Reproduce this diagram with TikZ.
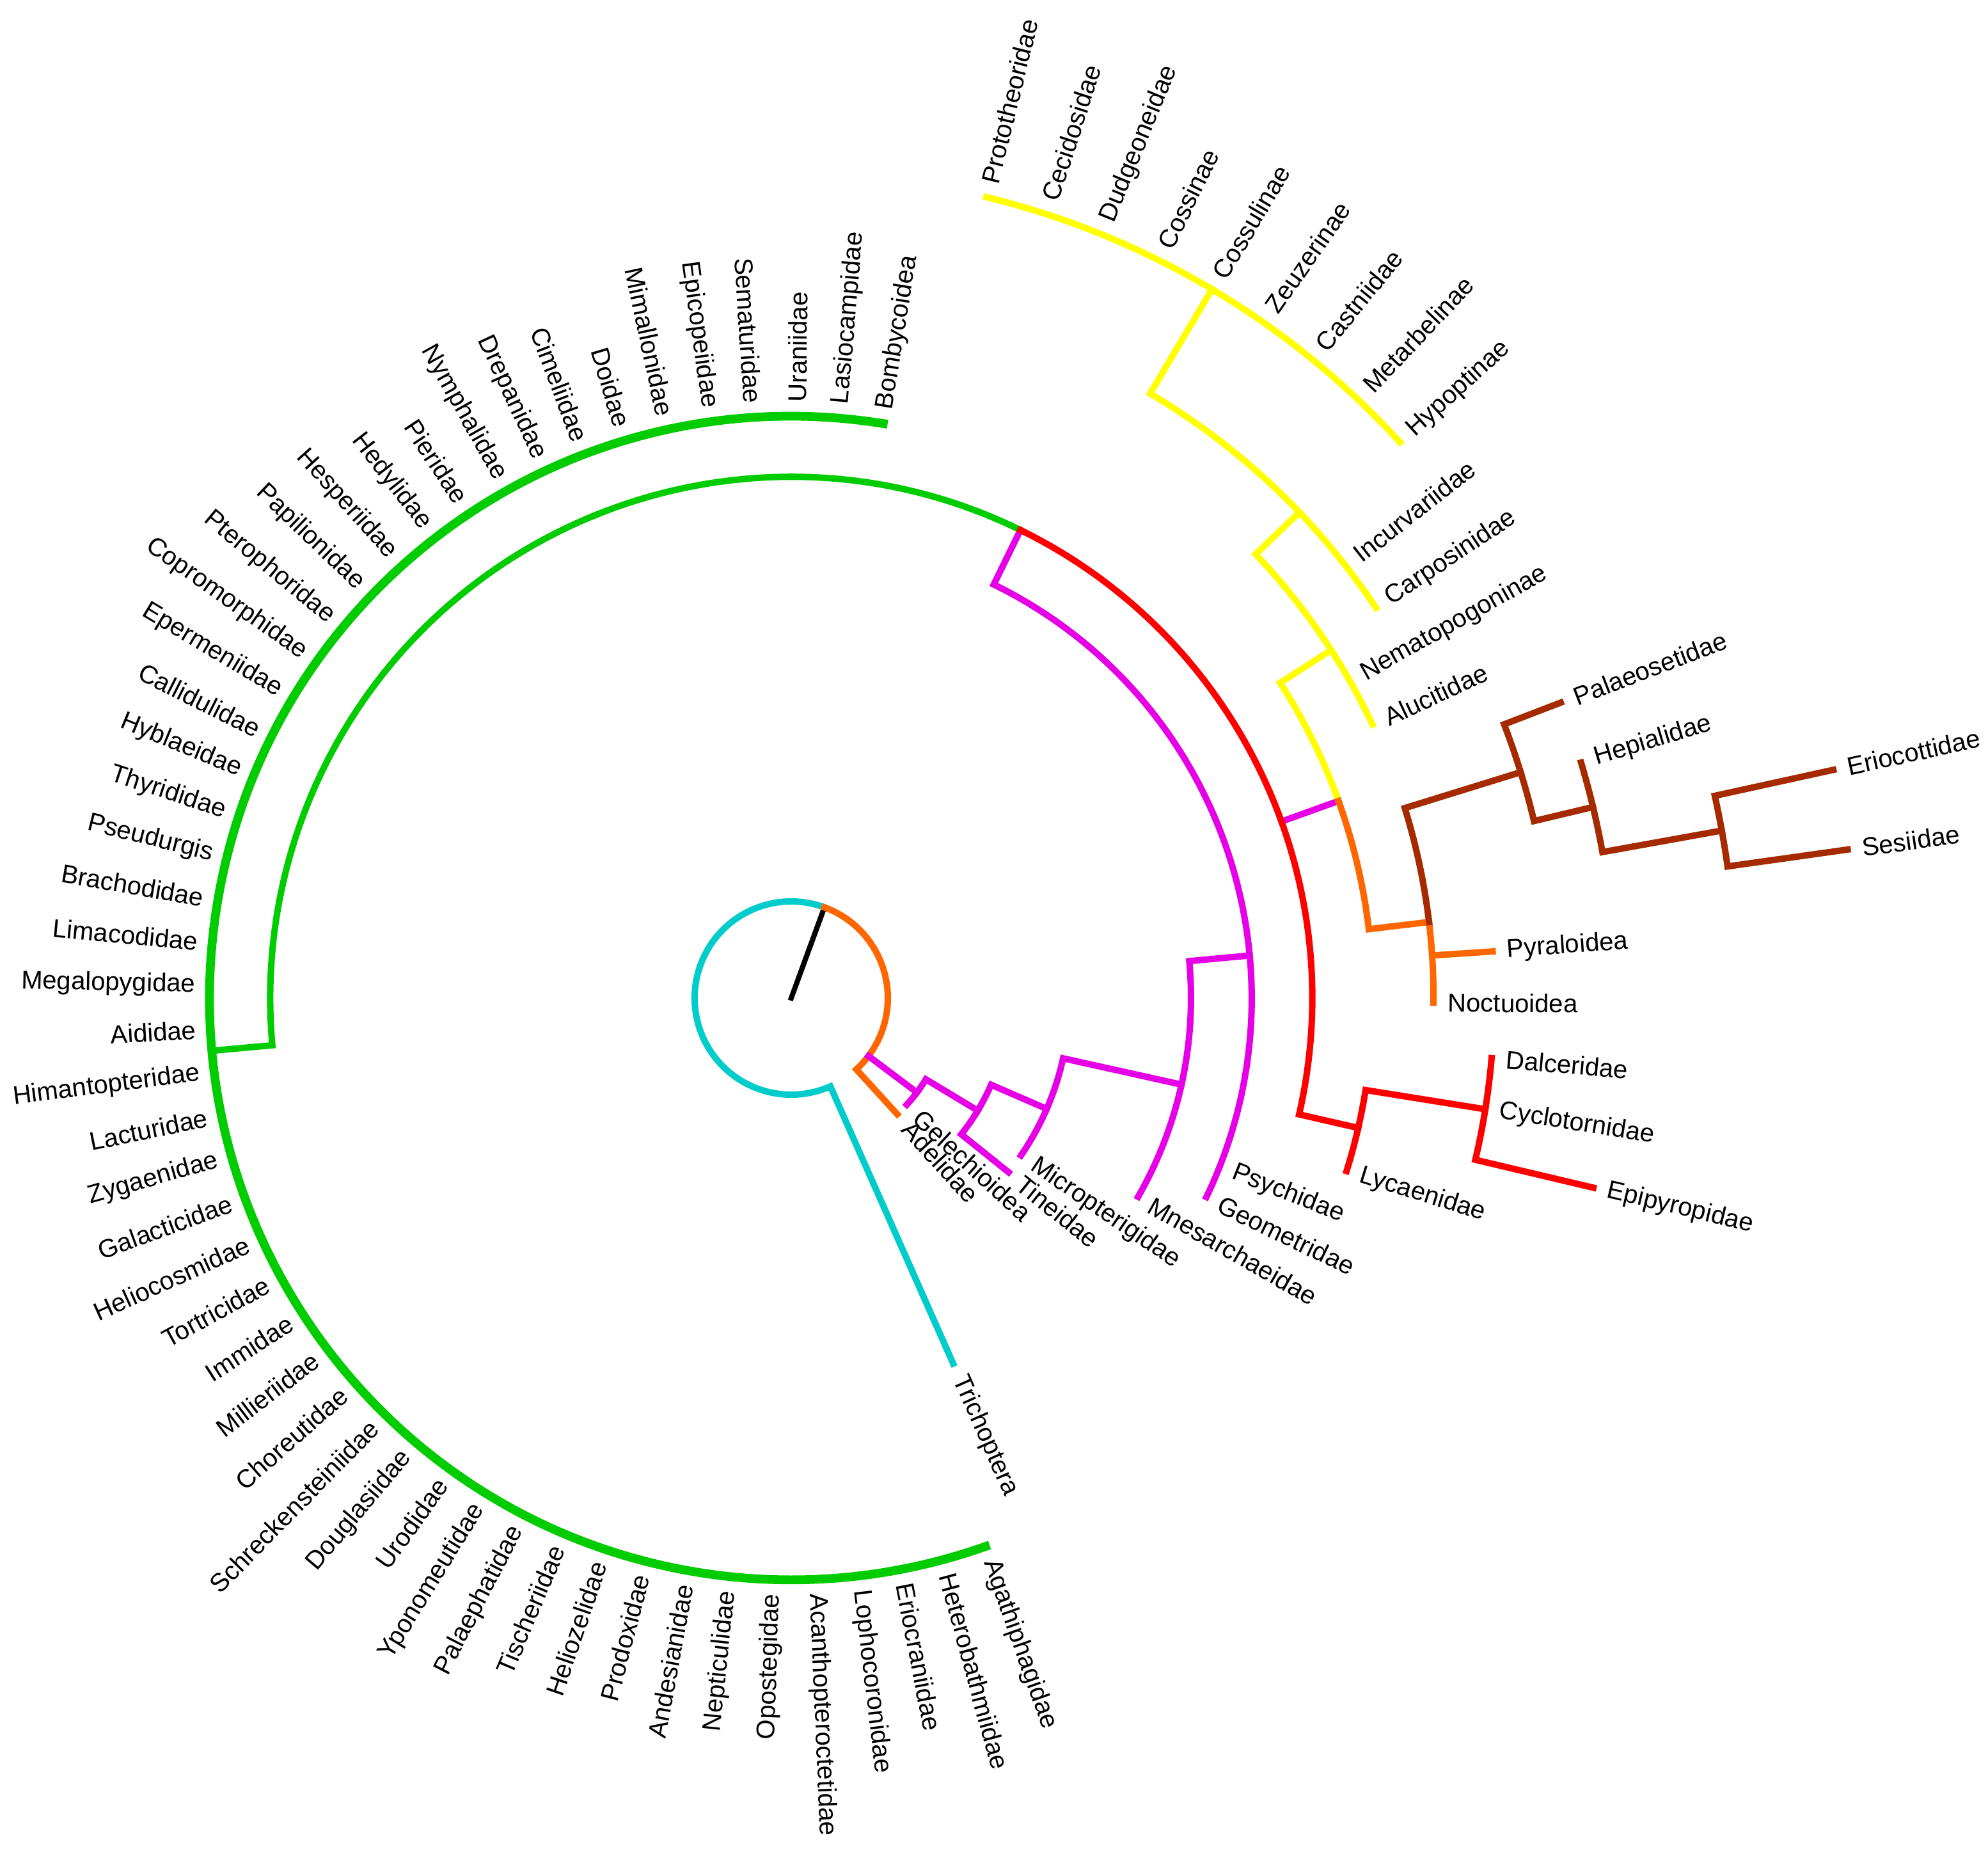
\documentclass[tikz,border=0pt]{standalone}
\usepackage{fontspec}
\setmainfont{Liberation Sans}
\usetikzlibrary{calc}

\definecolor{cladegreen}{RGB}{0,204,0}
\definecolor{cladeyellow}{RGB}{255,255,0}
\definecolor{cladered}{RGB}{255,0,0}
\definecolor{clademagenta}{RGB}{230,0,230}
\definecolor{cladecyan}{RGB}{0,204,204}
\definecolor{cladeorange}{RGB}{255,102,0}
\definecolor{cladebrown}{RGB}{165,42,0}

% tip label: name, angle, level of the tip
\newcommand{\taxon}[3]{%
  \pgfmathtruncatemacro\side{cos(#2)>=0 ? 1 : 0}%
  \ifnum\side=1\relax
    \node[tip, anchor=west, rotate=#2] (#1) at (#2:{lev(#3)+0.22}) {#1};%
  \else
    \node[tip, anchor=east, rotate=#2+180] (#1) at (#2:{lev(#3)+0.22}) {#1};%
  \fi}

\begin{document}
\begin{tikzpicture}[line cap=rect, line join=miter,
    declare function={lev(\k)=1.51+0.948*\k;}]

    % Define styles
    \tikzstyle{edge} = [line width=2.85pt]
    \tikzstyle{rim} = [line width=3.9pt]
    \tikzstyle{tip} = [font=\fontsize{11.4}{13}\selectfont, inner sep=0pt]

    \useasboundingbox (-12.37,-13.41) rectangle (18.71,15.60);

    % Root
    \coordinate (root) at (0,0);
    \draw [line width=2.3pt, black] (root) -- (69.9:{lev(0)});
    \draw [edge, cladecyan] (69.9:{lev(0)}) arc[start angle=69.9, end angle=293.9, radius={lev(0)}] -- (293.9:{lev(5)});
    \draw [edge, cladeorange] (69.9:{lev(0)}) arc[start angle=69.9, end angle=-47.6, radius={lev(0)}] -- (-47.6:{lev(1)});

    % Magenta clades
    \draw [edge, clademagenta] (-36.9:{lev(0)}) -- (-36.9:{lev(1)});
    \draw [edge, clademagenta] (-42.7:{lev(1)}) arc[start angle=-42.7, end angle=-31.1, radius={lev(1)}] -- (-31.1:{lev(2)});
    \draw [edge, clademagenta] (-38.7:{lev(3)}) -- (-38.7:{lev(2)}) arc[start angle=-38.7, end angle=-23.45, radius={lev(2)}] -- (-23.45:{lev(3)});
    \draw [edge, clademagenta] (-34.4:{lev(3)}) arc[start angle=-34.4, end angle=-12.5, radius={lev(3)}] -- (-12.5:{lev(5)});
    \draw [edge, clademagenta] (-29.8:{lev(5)}) arc[start angle=-29.8, end angle=5.3, radius={lev(5)}] -- (5.3:{lev(6)});
    \draw [edge, clademagenta] (-25.6:{lev(6)}) arc[start angle=-25.6, end angle=63.9, radius={lev(6)}] -- (63.9:{lev(7)});
    \draw [edge, clademagenta] (19.8:{lev(7)}) -- (19.8:{lev(8)});

    % Green clade
    \draw [edge, cladegreen] (63.9:{lev(7)}) arc[start angle=63.9, end angle=185.2, radius={lev(7)}] -- (185.2:{lev(8)});
    \draw [rim, cladegreen] (80.9:{lev(8)}) arc[start angle=80.9, end angle=289.5, radius={lev(8)}];

    % Red clade
    \draw [edge, cladered] (63.9:{lev(7)}) arc[start angle=63.9, end angle=-12.9, radius={lev(7)}] -- (-12.9:{lev(8)});
    \draw [edge, cladered] (-17.3:{lev(8)}) arc[start angle=-17.3, end angle=-9.1, radius={lev(8)}] -- (-9.1:{lev(10)});
    \draw [edge, cladered] (-13.3:{lev(12)}) -- (-13.3:{lev(10)}) arc[start angle=-13.3, end angle=-4.9, radius={lev(10)}];

    % Yellow clade
    \draw [edge, cladeyellow] (19.8:{lev(8)}) arc[start angle=19.8, end angle=32.8, radius={lev(8)}] -- (32.8:{lev(9)});
    \draw [edge, cladeyellow] (25.2:{lev(9)}) arc[start angle=25.2, end angle=43.7, radius={lev(9)}] -- (43.7:{lev(10)});
    \draw [edge, cladeyellow] (33.7:{lev(10)}) arc[start angle=33.7, end angle=59.3, radius={lev(10)}] -- (59.3:{lev(12)});
    \draw [edge, cladeyellow] (42.4:{lev(12)}) arc[start angle=42.4, end angle=76.3, radius={lev(12)}];

    % Orange clade
    \draw [edge, cladeorange] (19.8:{lev(8)}) arc[start angle=19.8, end angle=6.8, radius={lev(8)}] -- (6.8:{lev(9)});
    \draw [edge, cladeorange] (6.8:{lev(9)}) arc[start angle=6.8, end angle=-0.4, radius={lev(9)}];
    \draw [edge, cladeorange] (3.8:{lev(9)}) -- (3.8:{lev(10)});

    % Brown clade
    \draw [edge, cladebrown] (6.8:{lev(9)}) arc[start angle=6.8, end angle=17.2, radius={lev(9)}] -- (17.2:{lev(11)});
    \draw [edge, cladebrown] (13.4:{lev(12)}) -- (13.4:{lev(11)}) arc[start angle=13.4, end angle=21.0, radius={lev(11)}] -- (21.0:{lev(12)});
    \draw [edge, cladebrown] (16.6:{lev(12)}) arc[start angle=16.6, end angle=10.2, radius={lev(12)}] -- (10.2:{lev(14)});
    \draw [edge, cladebrown] (12.35:{lev(16)}) -- (12.35:{lev(14)}) arc[start angle=12.35, end angle=8.0, radius={lev(14)}] -- (8.0:{lev(16)});

    % Tip labels
    \foreach \name/\ang/\lv in {Prototheoridae/76.3/12, Cecidosidae/72.06/12,
        Dudgeoneidae/67.82/12, Cossinae/63.58/12, Cossulinae/59.34/12,
        Zeuzerinae/55.1/12, Castniidae/50.86/12, Metarbelinae/46.62/12,
        Hypoptinae/42.38/12, Incurvariidae/38.0/10, Carposinidae/33.7/10,
        Nematopogoninae/29.45/9, Alucitidae/25.2/9, Palaeosetidae/21.0/12,
        Hepialidae/16.6/12, Eriocottidae/12.35/16, Sesiidae/8.0/16,
        Pyraloidea/3.8/10, Noctuoidea/-0.4/9, Dalceridae/-4.9/10,
        Cyclotornidae/-9.1/10, Epipyropidae/-13.3/12, Lycaenidae/-17.3/8,
        Psychidae/-21.5/6, Geometridae/-25.6/6, Mnesarchaeidae/-29.8/5,
        Micropterigidae/-34.4/3, Tineidae/-38.7/3, Gelechioidea/-42.7/1,
        Adelidae/-47.6/1, Trichoptera/-66.1/5}
      \taxon{\name}{\ang}{\lv};

    \foreach \name [count=\i, evaluate=\i as \ang using 80.9+(\i-1)*4.2567] in {
        Bombycoidea, Lasiocampidae, Uraniidae, Sematuridae, Epicopeiidae,
        Mimallonidae, Doidae, Cimeliidae, Drepanidae, Nymphalidae, Pieridae,
        Hedylidae, Hesperiidae, Papilionidae, Pterophoridae, Copromorphidae,
        Epermeniidae, Callidulidae, Hyblaeidae, Thyrididae, Pseudurgis,
        Brachodidae, Limacodidae, Megalopygidae, Aididae, Himantopteridae,
        Lacturidae, Zygaenidae, Galacticidae, Heliocosmidae, Tortricidae,
        Immidae, Millieriidae, Choreutidae, Schreckensteiniidae, Douglasiidae,
        Urodidae, Yponomeutidae, Palaephatidae, Tischeriidae, Heliozelidae,
        Prodoxidae, Andesianidae, Nepticulidae, Opostegidae,
        Acanthopteroctetidae, Lophocoronidae, Eriocraniidae, Heterobathmiidae,
        Agathiphagidae}
      \taxon{\name}{\ang}{8};

\end{tikzpicture}
\end{document}
